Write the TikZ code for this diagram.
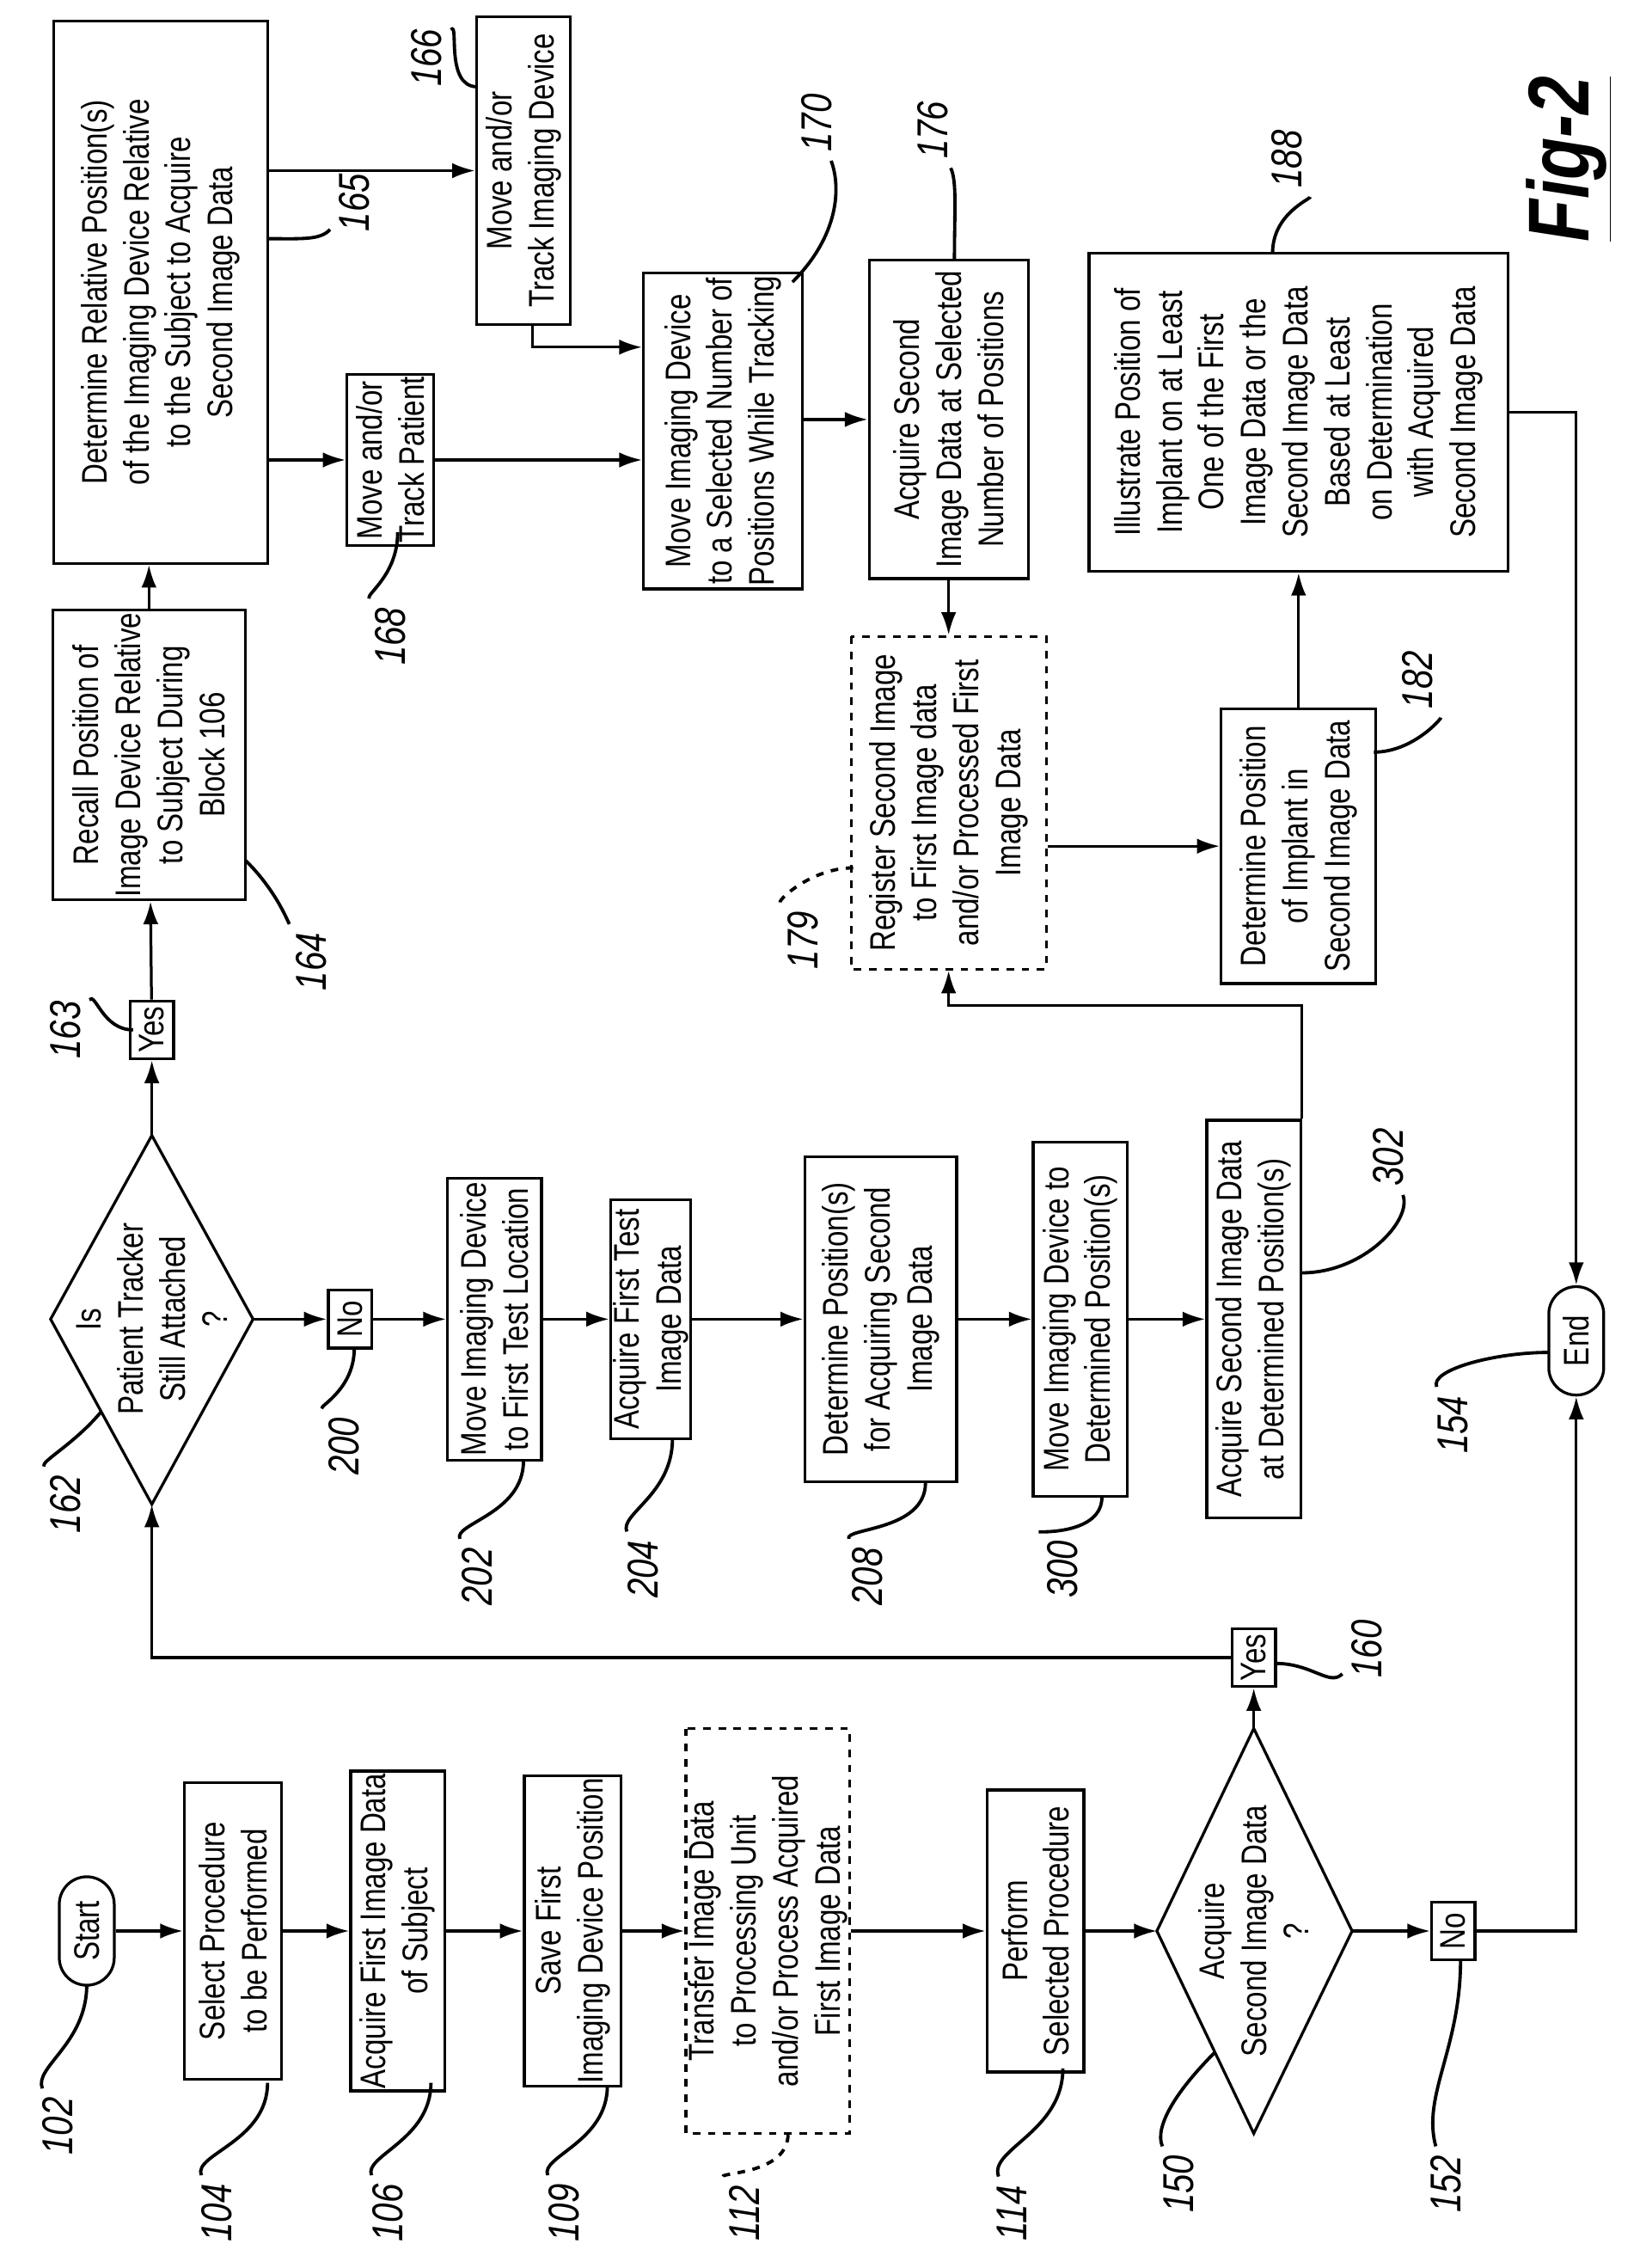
\documentclass[tikz,border=0pt]{standalone}
\usepackage{fontspec}
\setmainfont{Liberation Sans}[FakeStretch=0.8]
\usetikzlibrary{shapes.geometric,arrows.meta}
\begin{document}
\begin{tikzpicture}[x=0.02cm,y=-0.02cm,
  every node/.style={font=\fontsize{14}{16.5}\selectfont},
  box/.style 2 args={draw,line width=1.1pt,rotate=90,align=center,inner sep=1pt,minimum width=#1cm,minimum height=#2cm},
  dbox/.style 2 args={box={#1}{#2},dashed},
  term/.style={draw,line width=1.1pt,rotate=90,rounded corners=0.38cm,minimum width=1.5cm,minimum height=0.76cm,inner sep=1pt},
  dtext/.style={rotate=90,align=center,inner sep=0pt},
  yn/.style={draw,line width=1.1pt,rotate=90,minimum width=0.8cm,minimum height=0.6cm,inner sep=1pt},
  arr/.style={line width=1.1pt,-{Latex[length=9pt,width=6pt]}},
  ln/.style={line width=1.1pt},
  lab/.style={rotate=90,font=\fontsize{17}{19}\selectfont\itshape},
  lead/.style={line width=1.3pt}]
\useasboundingbox (0,0) rectangle (1134,1568);
% bottom row
\node[term] (start) at (60,1335) {Start};
\node[box={4.1}{1.34}] (n104) at (161,1335) {Select Procedure\\to be Performed};
\node[box={4.0}{1.3}] (n106) at (275,1335) {Acquire First Image Data\\of Subject};
\node[box={4.3}{1.34}] (n109) at (396,1335) {Save First\\Imaging Device Position};
\node[dbox={5.6}{1.66}] (n112) at (531,1335) {Transfer Image Data\\to Processing Unit\\and/or Process Acquired\\First Image Data};
\node[box={3.9}{1.34}] (n114) at (716,1335) {Perform\\Selected Procedure};
\node[dtext] (n150) at (867,1335) {Acquire\\Second Image Data\\?};
\coordinate (d150l) at (800,1335);
\coordinate (d150r) at (935,1335);
\coordinate (d150t) at (867,1195);
\coordinate (d150b) at (867,1475);
\draw[ln] (d150l) -- (d150t) -- (d150r) -- (d150b) -- cycle;
\node[yn] (n152) at (1005,1335) {No};
\node[yn] (n160) at (867,1146) {Yes};
\node[term] (end) at (1090,927) {End};
% middle row
\node[dtext] (n162) at (105,912) {Is\\Patient Tracker\\Still Attached\\?};
\coordinate (d162l) at (35,912);
\coordinate (d162r) at (175,912);
\coordinate (d162t) at (105,785);
\coordinate (d162b) at (105,1040);
\draw[ln] (d162l) -- (d162t) -- (d162r) -- (d162b) -- cycle;
\node[yn] (n163) at (105,712) {Yes};
\node[yn] (n200) at (242,912) {No};
\node[box={3.9}{1.3}] (n202) at (342,912) {Move Imaging Device\\to First Test Location};
\node[box={3.3}{0.9}] (n204) at (450,912) {Acquire First Test\\Image Data};
\node[box={4.5}{2.1}] (n208) at (609,912) {Determine Position(s)\\for Acquiring Second\\Image Data};
\node[box={4.9}{1.3}] (n300) at (747,912) {Move Imaging Device to\\Determined Position(s)};
\node[box={5.5}{1.3}] (n302) at (867,912) {Acquire Second Image Data\\at Determined Position(s)};
% top region
\node[box={3.9}{2.66}] (n164) at (103,522) {Recall Position of\\Image Device Relative\\to Subject During\\Block 106};
\node[box={7.5}{2.96}] (n165) at (111,202) {Determine Relative Position(s)\\of the Imaging Device Relative\\to the Subject to Acquire\\Second Image Data};
\node[box={4.26}{1.3}] (n166) at (362,118) {Move and/or\\Track Imaging Device};
\node[box={2.0}{1.2}] (n168) at (270,318) {Move and/or\\Track Patient};
\node[box={4.1}{2.2}] (n170) at (500,298) {Move Imaging Device\\to a Selected Number of\\Positions While Tracking};
\node[box={4.4}{2.2}] (n176) at (656,290) {Acquire Second\\Image Data at Selected\\Number of Positions};
\node[dbox={4.6}{2.7}] (n179) at (656,555) {Register Second Image\\to First Image data\\and/or Processed First\\Image Data};
\node[box={3.8}{2.14}] (n182) at (898,585) {Determine Position\\of Implant in\\Second Image Data};
\node[box={4.4}{5.8}] (n188) at (898,285) {Illustrate Position of\\Implant on at Least\\One of the First\\Image Data or the\\Second Image Data\\Based at Least\\on Determination\\with Acquired\\Second Image Data};
\coordinate (c166) at (368,240);
\coordinate (c302) at (900,695);
% connectors
\draw[arr] (start) -- (n104);
\draw[arr] (n104) -- (n106);
\draw[arr] (n106) -- (n109);
\draw[arr] (n109) -- (n112);
\draw[arr] (n112) -- (n114);
\draw[arr] (n114) -- (d150l);
\draw[arr] (d150r) -- (n152);
\draw[arr] (d150t) -- (n160);
\draw[arr] (n152) -| (end);
\draw[arr] (n160) -| (d162b);
\draw[arr] (d162t) -- (n163);
\draw[arr] (n163) -- (n164);
\draw[arr] (d162r) -- (n200);
\draw[arr] (n200) -- (n202);
\draw[arr] (n202) -- (n204);
\draw[arr] (n204) -- (n208);
\draw[arr] (n208) -- (n300);
\draw[arr] (n300) -- (n302);
\draw[arr] (n302.east -| c302) -- (c302) -| (n179);
\draw[arr] (n164) -- (n164 |- n165.west);
\draw[arr] (n165.south |- n168) -- (n168);
\draw[arr] (n165.south |- n166) -- (n166);
\draw[arr] (n168) -- (n168 -| n170.north);
\draw[arr] (c166 |- n166.west) -- (c166) -- (c166 -| n170.north);
\draw[arr] (n170.south |- n176) -- (n176);
\draw[arr] (n176) -- (n179);
\draw[arr] (n179.south |- n182) -- (n182);
\draw[arr] (n182) -- (n188);
\draw[arr] (n188) -| (end);
% reference labels
\node[lab] (l102) at (40,1470) {102};
\draw[lead] (l102) to[out=90,in=-90] (60,1372);
\node[lab] (l104) at (150,1530) {104};
\draw[lead] (l104) to[out=90,in=-90] (185,1440);
\node[lab] (l106) at (268,1530) {106};
\draw[lead] (l106) to[out=90,in=-90] (298,1440);
\node[lab] (l109) at (390,1530) {109};
\draw[lead] (l109) to[out=90,in=-90] (420,1442);
\node[lab] (l112) at (515,1530) {112};
\draw[lead,dashed] (l112) to[out=90,in=-90] (545,1475);
\node[lab] (l114) at (700,1530) {114};
\draw[lead] (l114) to[out=90,in=-90] (735,1430);
\node[lab] (l150) at (815,1510) {150};
\draw[lead] (l150) to[out=90,in=-135] (840,1419);
\node[lab] (l152) at (1000,1510) {152};
\draw[lead] (l152) to[out=90,in=-90] (1010,1355);
\node[lab] (l160) at (945,1140) {160};
\draw[lead] (l160) to[out=180,in=0] (882,1150);
\node[lab] (l154) at (1005,985) {154};
\draw[lead] (l154) to[out=90,in=180] (1071,935);
\node[lab] (l162) at (45,1040) {162};
\draw[lead] (l162) to[out=90,in=-130] (70,976);
\node[lab] (l200) at (238,1000) {200};
\draw[lead] (l200) to[out=90,in=-90] (245,932);
\node[lab] (l202) at (330,1090) {202};
\draw[lead] (l202) to[out=90,in=-90] (362,1010);
\node[lab] (l204) at (445,1085) {204};
\draw[lead] (l204) to[out=90,in=-90] (465,995);
\node[lab] (l208) at (600,1090) {208};
\draw[lead] (l208) to[out=90,in=-90] (640,1025);
\node[lab] (l300) at (735,1085) {300};
\draw[lead] (l300) to[out=90,in=-90] (762,1035);
\node[lab] (l302) at (960,800) {302};
\draw[lead] (l302) to[out=-90,in=0] (900,880);
\node[lab] (l163) at (45,712) {163};
\draw[lead] (l163) to[out=0,in=180] (92,712);
\node[lab] (l164) at (215,665) {164};
\draw[lead] (l164) to[out=90,in=-45] (170,595);
\node[lab] (l165) at (245,140) {165};
\draw[lead] (l165) to[out=180,in=0] (185,165);
\node[lab] (l166) at (295,40) {166};
\draw[lead] (l166) to[out=0,in=180] (330,60);
\node[lab] (l168) at (270,440) {168};
\draw[lead] (l168) to[out=90,in=-90] (275,368);
\node[lab] (l170) at (565,85) {170};
\draw[lead] (l170) to[out=-90,in=45] (548,195);
\node[lab] (l176) at (645,90) {176};
\draw[lead] (l176) to[out=-90,in=90] (660,180);
\node[lab] (l179) at (555,650) {179};
\draw[lead,dashed] (l179) to[out=90,in=180] (590,600);
\node[lab] (l182) at (980,470) {182};
\draw[lead] (l182) to[out=-90,in=0] (950,520);
\node[lab] (l188) at (890,110) {188};
\draw[lead] (l188) to[out=-90,in=90] (880,175);
\node[rotate=90,font=\fontsize{34}{38}\selectfont\bfseries\itshape] (fig) at (1085,110) {\underline{Fig-2}};
\end{tikzpicture}
\end{document}
